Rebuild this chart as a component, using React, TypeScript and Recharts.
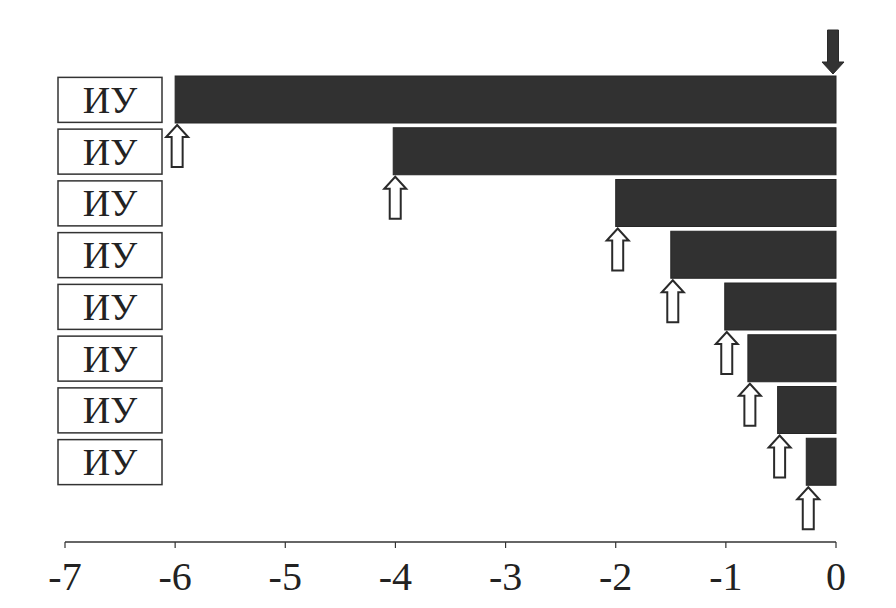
import React from 'react';
import { BarChart, Bar, XAxis, YAxis } from 'recharts';

const categories: string[] = ['ИУ', 'ИУ', 'ИУ', 'ИУ', 'ИУ', 'ИУ', 'ИУ', 'ИУ'];
const values: number[] = [-6, -4.02, -2, -1.5, -1.01, -0.8, -0.53, -0.27];
const xTicks: number[] = [-7, -6, -5, -4, -3, -2, -1, 0];

const data = categories.map((c, i) => ({ id: `r${i}`, label: c, value: values[i] }));

const SERIF = "'Liberation Serif', 'Times New Roman', serif";
const INK = '#2a2a2a';

const upArrow = (cx: number, top: number) => {
  const hw = 11;
  const sw = 5.5;
  const hh = 12;
  const h = 42;
  return `M${cx},${top} L${cx + hw},${top + hh} L${cx + sw},${top + hh} L${cx + sw},${top + h} L${cx - sw},${top + h} L${cx - sw},${top + hh} L${cx - hw},${top + hh} Z`;
};

const downArrow = (cx: number, bottom: number) => {
  const hw = 11;
  const sw = 5.5;
  const hh = 12;
  const h = 44;
  const top = bottom - h;
  return `M${cx},${bottom} L${cx + hw},${bottom - hh} L${cx + sw},${bottom - hh} L${cx + sw},${top} L${cx - sw},${top} L${cx - sw},${bottom - hh} L${cx - hw},${bottom - hh} Z`;
};

const BarShape = (props: any) => {
  const { x, y, width, height, index } = props;
  const left = Math.min(x, x + width);
  const right = Math.max(x, x + width);
  const top = Math.min(y, y + height);
  const bottom = Math.max(y, y + height);
  return (
    <g>
      <rect x={left} y={top} width={right - left} height={bottom - top} fill="#313131" stroke="#262626" strokeWidth={1} />
      <path d={upArrow(left + 2, bottom + 2)} fill="#ffffff" stroke={INK} strokeWidth={2} strokeLinejoin="miter" />
      {index === 0 && <path d={downArrow(right - 3, top - 2)} fill="#333333" stroke="#2a2a2a" strokeWidth={1} />}
    </g>
  );
};

const YTick = (props: any) => {
  const { x, y, payload } = props;
  const label = categories[payload.index] ?? '';
  const bx = x - 7;
  const bw = 104;
  const bh = 45;
  return (
    <g>
      <rect x={bx} y={y - bh / 2} width={bw} height={bh} fill="#ffffff" stroke="#333333" strokeWidth={1.5} />
      <text x={bx + bw / 2} y={y + 13} textAnchor="middle" style={{ fontFamily: SERIF, fontSize: 38 }} fill="#222222">
        {label}
      </text>
    </g>
  );
};

const XTick = (props: any) => {
  const { x, y, payload } = props;
  return (
    <text x={x} y={y + 40} textAnchor="middle" style={{ fontFamily: SERIF, fontSize: 40 }} fill="#222222">
      {payload.value}
    </text>
  );
};

export default function App() {
  return (
    <div style={{ position: 'absolute', left: 0, top: 0, width: 896, height: 608, background: '#ffffff' }}>
      <BarChart
        width={896}
        height={608}
        data={data}
        layout="vertical"
        margin={{ top: 74, right: 60, bottom: 6, left: 64 }}
        barSize={47}
      >
        <XAxis
          type="number"
          dataKey="value"
          domain={[-7, 0]}
          ticks={xTicks}
          interval={0}
          height={60}
          axisLine={{ stroke: '#333333', strokeWidth: 1.5 }}
          tickLine={{ stroke: '#333333', strokeWidth: 1.2 }}
          tickSize={6}
          tick={<XTick />}
        />
        <YAxis
          type="category"
          dataKey="id"
          width={1}
          tickSize={0}
          tickMargin={0}
          axisLine={false}
          tickLine={false}
          padding={{ top: 0, bottom: 54 }}
          tick={<YTick />}
          interval={0}
        />
        <Bar dataKey="value" isAnimationActive={false} shape={<BarShape />} />
      </BarChart>
    </div>
  );
}
